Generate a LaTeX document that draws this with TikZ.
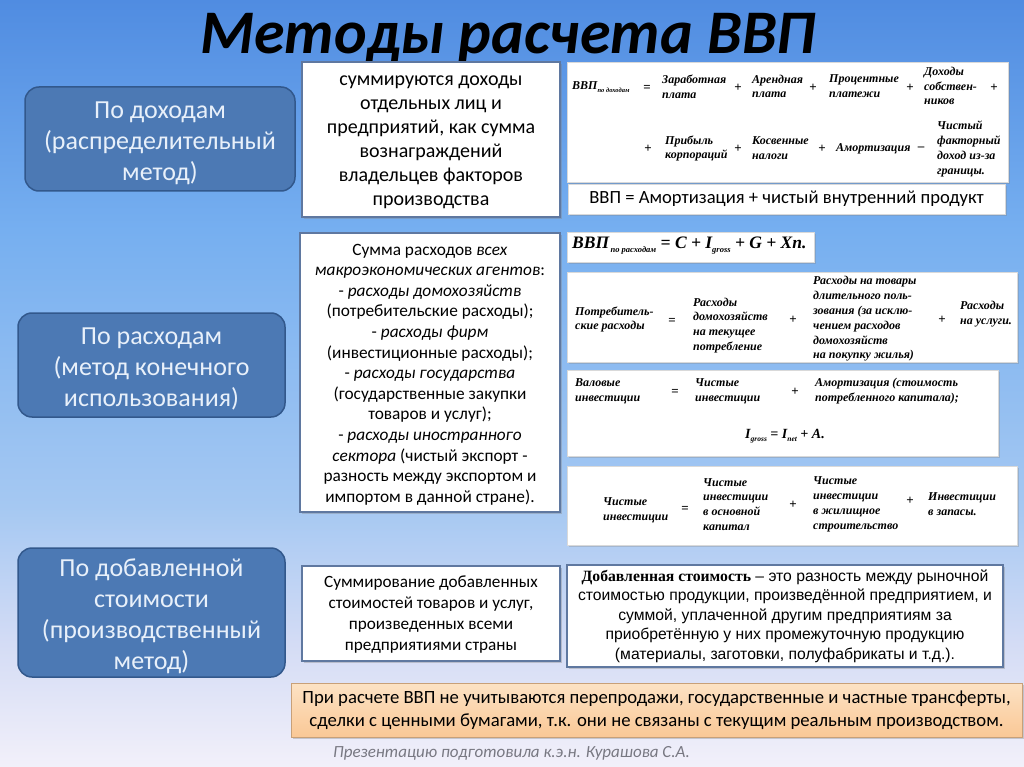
\documentclass[tikz,border=0pt]{standalone}
\usepackage{fontspec}
\setmainfont{Carlito}
\newfontfamily\frm{Liberation Serif}
\newfontfamily\arl{Liberation Sans}
\usetikzlibrary{shadows}
\definecolor{bgtop}{RGB}{80,140,225}
\definecolor{bgmid}{RGB}{118,175,240}
\definecolor{bglow}{RGB}{165,200,242}
\definecolor{bgpale}{RGB}{212,220,245}
\definecolor{bgbot}{RGB}{242,240,250}
\definecolor{mfill}{RGB}{76,121,180}
\definecolor{mdraw}{RGB}{50,88,140}
\definecolor{mtext}{RGB}{232,240,250}
\definecolor{bdr}{RGB}{95,120,160}
\definecolor{ortop}{RGB}{252,226,196}
\definecolor{orbot}{RGB}{250,200,150}
\definecolor{foot}{RGB}{120,120,130}
\pgfdeclareverticalshading{bgshade}{100bp}{color(0bp)=(bgbot); color(25bp)=(bgbot); color(33bp)=(bgpale); color(42bp)=(bglow); color(60bp)=(bgmid); color(75bp)=(bgtop); color(100bp)=(bgtop)}
\tikzset{
  method/.style={draw=mdraw, line width=1.5pt, fill=mfill, rounded corners=14pt, inner sep=0pt},
  mtxt/.style={text=mtext, align=center, font=\fontsize{26}{31}\selectfont, inner sep=0pt},
  wbox/.style={draw=bdr, line width=1.2pt, fill=white, inner sep=0pt,
    drop shadow={opacity=0.35, shadow xshift=2pt, shadow yshift=-2pt}},
  fbox/.style={draw=white!85!black, line width=0.6pt, fill=white, inner sep=0pt,
    drop shadow={opacity=0.3, shadow xshift=2pt, shadow yshift=-2pt}},
  ftxt/.style={font=\frm\bfseries\itshape\fontsize{12}{14.8}\selectfont, align=left, inner sep=0pt, anchor=west},
  fop/.style={font=\frm\bfseries\fontsize{13}{14}\selectfont, inner sep=0pt},
}
\newcommand{\lowsub}[1]{\raisebox{-0.45ex}{\fontsize{6.5}{7}\selectfont #1}}
\begin{document}
\begin{tikzpicture}[x=1pt,y=-1pt]
\useasboundingbox (0,0) rectangle (1024,767);
\shade[shading=bgshade] (0,0) rectangle (1024,767);

% title
\node[font=\bfseries\itshape\fontsize{62}{70}\selectfont, text=black, inner sep=0pt] (title) at (508,38) {Методы расчета ВВП};

% method boxes
\node[method, minimum width=270pt, minimum height=104pt] (m1) at (160,139) {};
\node[mtxt] (m1t) at (160,143) {По доходам\\(распределительный\\метод)};
\node[method, minimum width=267pt, minimum height=104pt] (m2) at (151.5,365) {};
\node[mtxt] (m2t) at (151.5,369) {По расходам\\(метод конечного\\использования)};
\node[method, minimum width=267pt, minimum height=129pt] (m3) at (151.5,612.5) {};
\node[mtxt] (m3t) at (151.5,616) {По добавленной\\стоимости\\(производственный\\метод)};

% middle description boxes
\node[wbox, minimum width=258pt, minimum height=155pt] (d1) at (431,139.5) {};
\node[align=center, inner sep=0pt, font=\fontsize{20}{24}\selectfont] (d1t) at (431,142.5)
 {суммируются доходы\\отдельных лиц и\\предприятий, как сумма\\вознаграждений\\владельцев факторов\\производства};
\node[wbox, minimum width=260pt, minimum height=279pt] (d2) at (430,372.5) {};
\node[align=center, inner sep=0pt, font=\fontsize{17.3}{20.6}\selectfont] (d2t) at (430,374.5)
 {Сумма расходов \textit{всех}\\\textit{макроэкономических агентов}:\\- \textit{расходы домохозяйств}\\(потребительские расходы);\\- \textit{расходы фирм}\\(инвестиционные расходы);\\- \textit{расходы государства}\\(государственные закупки\\товаров и услуг);\\- \textit{расходы иностранного}\\\textit{сектора} (чистый экспорт -\\разность между экспортом и\\импортом в данной стране).};
\node[wbox, minimum width=258pt, minimum height=95pt] (d3) at (431,613.5) {};
\node[align=center, inner sep=0pt, font=\fontsize{17.2}{21}\selectfont] (d3t) at (431,615)
 {Суммирование добавленных\\стоимостей товаров и услуг,\\произведенных всеми\\предприятиями страны};

% formula box 1 (income)
\node[fbox, minimum width=441pt, minimum height=120pt] (f1) at (787.5,122) {};
\node[ftxt] (f1a) at (572,87) {ВВП\lowsub{по доходам}};
\node[fop] (f1eq) at (647,88) {=};
\node[ftxt] (f1b) at (662,86.5) {Заработная\\плата};
\node[fop] (f1p1) at (738,88) {+};
\node[ftxt] (f1c) at (752,86.5) {Арендная\\плата};
\node[fop] (f1p2) at (813,88) {+};
\node[ftxt] (f1d) at (829,86.5) {Процентные\\платежи};
\node[fop] (f1p3) at (910,88) {+};
\node[ftxt] (f1e) at (924,86) {Доходы\\собствен-\\ников};
\node[fop] (f1p4) at (994,88) {+};
\node[fop] (f1p5) at (648,149) {+};
\node[ftxt] (f1f) at (665,148.5) {Прибыль\\корпораций};
\node[fop] (f1p6) at (738,149) {+};
\node[ftxt] (f1g) at (752,148.5) {Косвенные\\налоги};
\node[fop] (f1p7) at (822,149) {+};
\node[ftxt] (f1h) at (836,149) {Амортизация};
\node[fop] (f1m) at (921,149) {–};
\node[ftxt] (f1i) at (937,149) {Чистый\\факторный\\доход из-за\\границы.};

\node[fbox, minimum width=437pt, minimum height=30pt, font=\fontsize{18.6}{20}\selectfont] (f2) at (786.5,199) {ВВП = Амортизация + чистый внутренний продукт};

% expenditure formula
\node[fbox, minimum width=247pt, minimum height=30pt] (f3) at (690.5,247) {};
\node[font=\frm\bfseries\itshape\fontsize{17.5}{19}\selectfont, inner sep=0pt, anchor=west] (f3t) at (572,246)
 {ВВП\raisebox{-0.5ex}{\fontsize{8.5}{9}\selectfont\,по расходам} = C + I\raisebox{-0.5ex}{\fontsize{8.5}{9}\selectfont gross} + G + Xn.};

% consumption
\node[fbox, minimum width=450pt, minimum height=90pt] (f4) at (792,317) {};
\node[ftxt] (f4a) at (575,319.5) {Потребитель-\\ские расходы};
\node[fop] (f4eq) at (672,321) {=};
\node[ftxt] (f4b) at (693,325.5) {Расходы\\домохозяйств\\на текущее\\потребление};
\node[fop] (f4p1) at (793,320) {+};
\node[ftxt] (f4c) at (813,319) {Расходы на товары\\длительного поль-\\зования (за исклю-\\чением расходов\\домохозяйств\\на покупку жилья)};
\node[fop] (f4p2) at (942,320) {+};
\node[ftxt] (f4d) at (960,314) {Расходы\\на услуги.};

% gross investment
\node[fbox, minimum width=431pt, minimum height=86pt] (f5) at (782.5,413) {};
\node[ftxt] (f5a) at (575,391.5) {Валовые\\инвестиции};
\node[fop] (f5eq) at (675,392) {=};
\node[ftxt] (f5b) at (695,391.5) {Чистые\\инвестиции};
\node[fop] (f5p) at (795,392) {+};
\node[ftxt] (f5c) at (815,391.5) {Амортизация (стоимость\\потребленного капитала);};
\node[font=\frm\bfseries\itshape\fontsize{14}{15}\selectfont, inner sep=0pt] (f5d) at (785,436)
 {I\raisebox{-0.5ex}{\fontsize{7.5}{8}\selectfont gross} = I\raisebox{-0.5ex}{\fontsize{7.5}{8}\selectfont net} + A.};

% net investment
\node[fbox, minimum width=450pt, minimum height=79pt] (f6) at (792,505.5) {};
\node[ftxt] (f6a) at (603,510) {Чистые\\инвестиции};
\node[fop] (f6eq) at (685,509) {=};
\node[ftxt] (f6b) at (703,504.5) {Чистые\\инвестиции\\в основной\\капитал};
\node[fop] (f6p1) at (793,505) {+};
\node[ftxt] (f6c) at (813,504.5) {Чистые\\инвестиции\\в жилищное\\строительство};
\node[fop] (f6p2) at (910,501) {+};
\node[ftxt] (f6d) at (928,504.5) {Инвестиции\\в запасы.};

% value added definition
\node[wbox, minimum width=436pt, minimum height=102pt, align=center, font=\arl\fontsize{15.7}{19.6}\selectfont] (f7) at (785,616)
 {{\frm\bfseries Добавленная стоимость} – это разность между рыночной\\стоимостью продукции, произведённой предприятием, и\\суммой, уплаченной другим предприятиям за\\приобретённую у них промежуточную продукцию\\(материалы, заготовки, полуфабрикаты и т.д.).};

% note
\node[draw=orbot!80!black, line width=0.4pt, top color=ortop, bottom color=orbot, inner sep=0pt,
  minimum width=731pt, minimum height=54pt, align=center, font=\fontsize{18.7}{23}\selectfont,
  drop shadow={opacity=0.35, shadow xshift=2pt, shadow yshift=-2pt}] (note) at (656.5,710)
 {При расчете ВВП не учитываются перепродажи, государственные и частные трансферты,\\сделки с ценными бумагами, т.к. они не связаны с текущим реальным производством.};

\node[font=\itshape\fontsize{17}{18}\selectfont, text=foot, inner sep=0pt, anchor=west] (author) at (333,753)
 {Презентацию подготовила к.э.н. Курашова С.А.};
\end{tikzpicture}
\end{document}
